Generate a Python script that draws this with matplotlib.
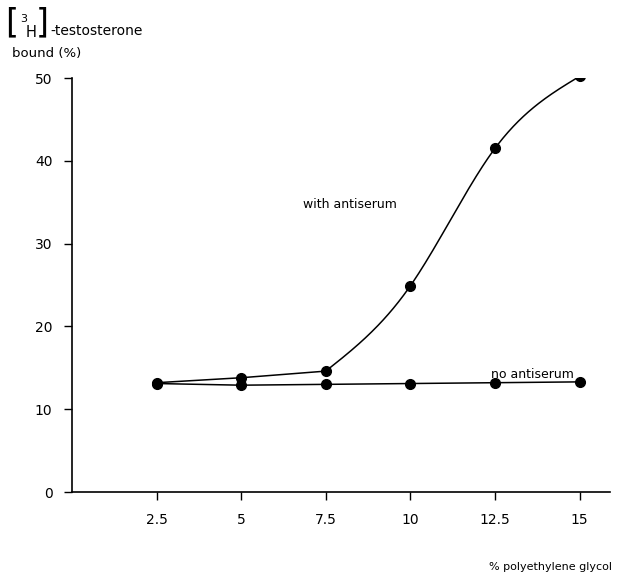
import numpy as np
import matplotlib
matplotlib.use("Agg")
import matplotlib.pyplot as plt

# PEG concentration (%) and bound testosterone (%)
peg = [2.5, 5, 7.5, 10, 12.5, 15]
with_antiserum = [13.2, 13.8, 14.6, 24.9, 41.5, 50.2]
no_antiserum = [13.1, 12.9, 13.0, 13.1, 13.2, 13.3]


def natural_spline(x, y, n=200):
    # natural cubic spline, only used to draw the hand-drawn smooth part
    x = np.asarray(x, float); y = np.asarray(y, float)
    N = len(x); h = np.diff(x)
    A = np.zeros((N, N)); b = np.zeros(N)
    A[0, 0] = A[-1, -1] = 1
    for i in range(1, N - 1):
        A[i, i-1] = h[i-1]; A[i, i] = 2*(h[i-1] + h[i]); A[i, i+1] = h[i]
        b[i] = 6*((y[i+1]-y[i])/h[i] - (y[i]-y[i-1])/h[i-1])
    M = np.linalg.solve(A, b)
    xs = np.linspace(x[0], x[-1], n)
    idx = np.clip(np.searchsorted(x, xs) - 1, 0, N - 2)
    a = x[idx+1] - xs; c = xs - x[idx]; hh = h[idx]
    ys = (M[idx]*a**3 + M[idx+1]*c**3)/(6*hh) \
        + (y[idx]/hh - M[idx]*hh/6)*a + (y[idx+1]/hh - M[idx+1]*hh/6)*c
    return xs, ys


fig = plt.figure(figsize=(6.19, 5.78), dpi=100)
ax = fig.add_axes([72/619, 1-492/578, (610-72)/619, (492-78)/578])

# with antiserum: straight at low PEG, smooth sigmoid rise above 7.5 %
ax.plot(peg[:3], with_antiserum[:3], color='black', lw=1.1)
xs, ys = natural_spline(peg[2:], with_antiserum[2:])
ax.plot(xs, ys, color='black', lw=1.1)
ax.plot(peg, with_antiserum, 'o', color='black', ms=7)
ax.plot(peg, no_antiserum, '-o', color='black', lw=1.1, ms=7)

ax.set_xlim(0, 15.9)
ax.set_ylim(0, 50)
ax.set_xticks(peg)
ax.set_xticklabels(['2.5', '5', '7.5', '10', '12.5', '15'])
ax.set_yticks([0, 10, 20, 30, 40, 50])
for s in ['top', 'right']:
    ax.spines[s].set_visible(False)
for s in ['left', 'bottom']:
    ax.spines[s].set_linewidth(1.2)
ax.tick_params(direction='out', length=6, width=1, labelsize=10)
ax.tick_params(axis='y', pad=8)
ax.tick_params(axis='x', pad=9)

ax.text(8.2, 34.3, 'with antiserum', fontsize=9, ha='center')
ax.text(13.6, 13.8, 'no antiserum', fontsize=9, ha='center')

fig.text(612/619, 1-570/578, '% polyethylene glycol', fontsize=8, ha='right')
fig.text(5/619, 1-6/578, '[', fontsize=24, va='top')
fig.text(20/619, 1-22/578, '3', fontsize=8, va='baseline')
fig.text(26/619, 1-37/578, 'H', fontsize=10.5, va='baseline')
fig.text(36/619, 1-6/578, ']', fontsize=24, va='top')
fig.text(50/619, 1-35/578, '-testosterone', fontsize=10, va='baseline')
fig.text(12/619, 1-57/578, 'bound (%)', fontsize=9.5, va='baseline')

plt.savefig('out.png', dpi=100)
